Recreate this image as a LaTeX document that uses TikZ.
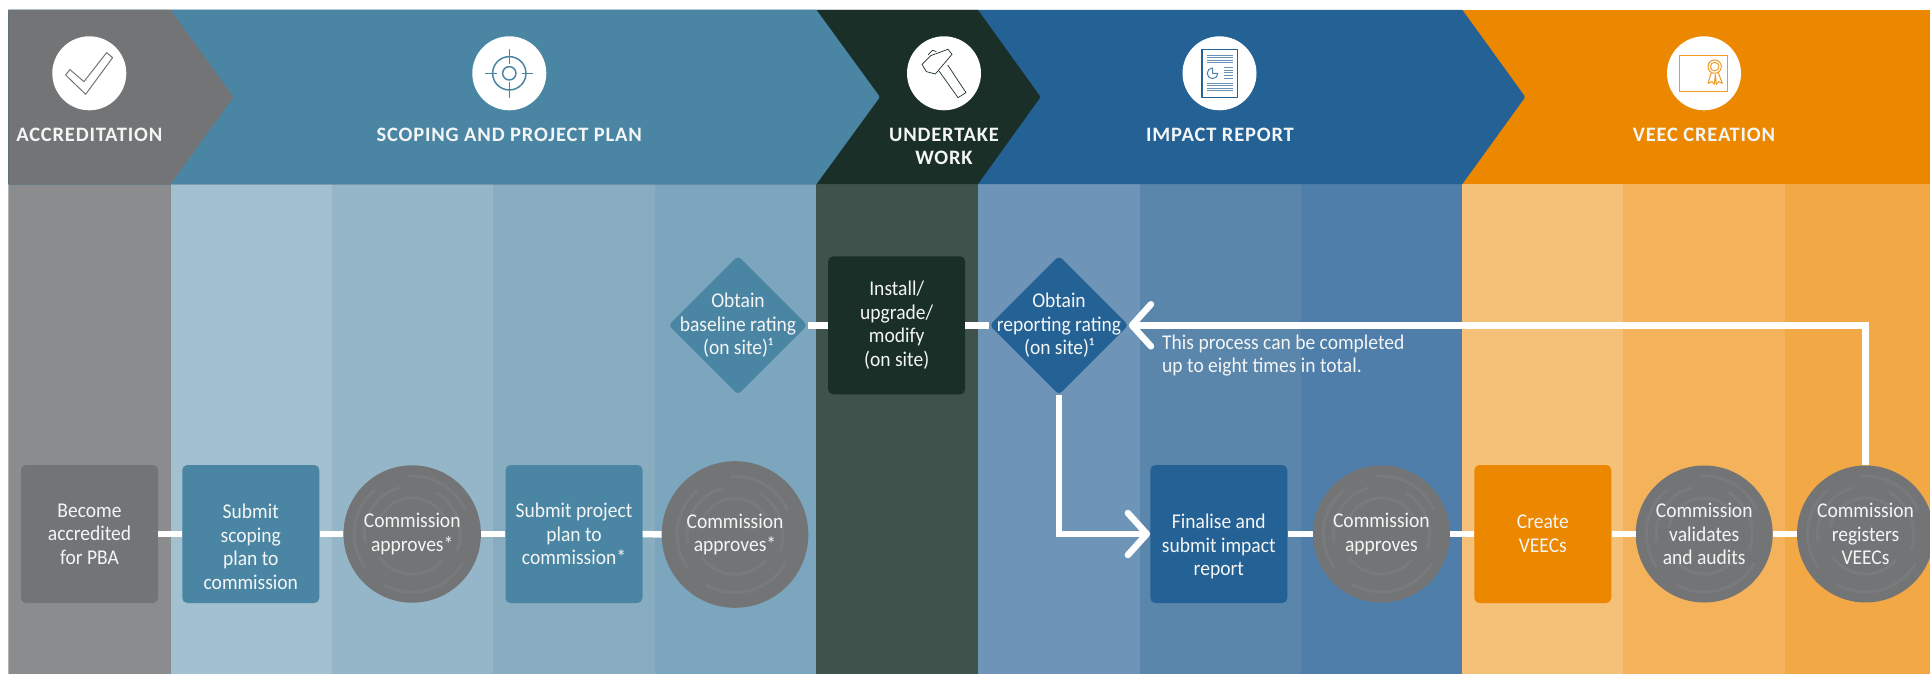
\documentclass[tikz,border=0pt]{standalone}
\usepackage{fontspec}
\setmainfont[FakeStretch=0.93]{Carlito}
\newfontfamily\headfont[LetterSpace=4]{Carlito}
\usetikzlibrary{shapes.geometric,arrows.meta,calc}
\definecolor{hgrey}{HTML}{727476}
\definecolor{cgrey}{HTML}{8B8C8E}
\definecolor{hteal}{HTML}{4A86A3}
\definecolor{tealA}{HTML}{A2C0CF}
\definecolor{tealB}{HTML}{94B6C8}
\definecolor{tealC}{HTML}{88ADC0}
\definecolor{tealD}{HTML}{7BA6BD}
\definecolor{hdark}{HTML}{1A2F28}
\definecolor{cdark}{HTML}{3F534C}
\definecolor{hblue}{HTML}{246195}
\definecolor{blueA}{HTML}{6E94B7}
\definecolor{blueB}{HTML}{5A86AC}
\definecolor{blueC}{HTML}{4E7EA9}
\definecolor{horange}{HTML}{EC8800}
\definecolor{orangeA}{HTML}{F5C077}
\definecolor{orangeB}{HTML}{F4B25A}
\definecolor{orangeC}{HTML}{F2A844}
\definecolor{sealgrey}{HTML}{727476}
\definecolor{sealarc}{HTML}{787A7C}
\definecolor{paper}{HTML}{F4F5F5}
\newcommand{\ringarc}[3]{% start, end, radius
  \draw[line width=3pt,draw=sealarc] (path picture bounding box.center) ++(#1:#3pt) arc[start angle=#1,end angle=#2,radius=#3pt];}
\newcommand{\sealrings}{%
  \ringarc{25}{95}{58}\ringarc{130}{215}{58}\ringarc{240}{330}{58}%
  \ringarc{-20}{60}{48}\ringarc{105}{190}{48}\ringarc{215}{320}{40}\ringarc{30}{170}{36}}
\tikzset{
  x=1pt,y=-1pt,
  txt/.style={text=paper,font=\fontsize{21}{23.5}\selectfont,align=center,inner sep=0pt},
  head/.style={text=paper,font=\headfont\fontsize{20.5}{23.5}\selectfont\bfseries,align=center,inner sep=0pt},
  procbox/.style={txt,rectangle,rounded corners=5pt,minimum width=137pt,minimum height=138pt,fill=#1},
  seal/.style={txt,circle,fill=sealgrey,minimum size=#1*2pt,path picture={\sealrings}},
  deci/.style={diamond,aspect=1,rounded corners=4pt,inner sep=0pt,minimum width=139pt,minimum height=139pt,fill=#1},
  badge/.style={circle,fill=white,minimum size=74pt,inner sep=0pt},
  flow/.style={draw=white,line width=6.5pt},
  flowhead/.style={flow,-{Straight Barb[length=19pt,width=42pt,round]}},
  iconline/.style={line width=1pt,line join=round},
  iconframe/.style={shift={(#1.center)},x=.3333pt,y=-.3333pt,shift={(-148,-145)}},
}
\newcommand{\chevron}[3]{% colour, top/bottom x, tip x
  \fill[#1] (0,10) -- (#2,10) -- ($(#3,97)+(-3,-4)$) .. controls (#3,97) .. ($(#3,97)+(-3,4)$) -- (#2,184) -- (0,184) -- cycle;}
\begin{document}
\begin{tikzpicture}
\useasboundingbox (0,0) rectangle (1930,674);
\begin{scope}
\clip (8.4,0) rectangle (1930,674);
% body columns
\fill[cgrey] (0,184) rectangle (170.5,674);
\fill[tealA] (170.5,184) rectangle (331.6,674);
\fill[tealB] (331.6,184) rectangle (493,674);
\fill[tealC] (493,184) rectangle (654.6,674);
\fill[tealD] (654.6,184) rectangle (816,674);
\fill[cdark] (816,184) rectangle (977.5,674);
\fill[blueA] (977.5,184) rectangle (1139.6,674);
\fill[blueB] (1139.6,184) rectangle (1300.5,674);
\fill[blueC] (1300.5,184) rectangle (1462.4,674);
\fill[orangeA] (1462.4,184) rectangle (1623,674);
\fill[orangeB] (1623,184) rectangle (1785,674);
\fill[orangeC] (1785,184) rectangle (1930,674);
% header chevrons
\fill[horange] (1400,10) rectangle (1930,184);
\chevron{hblue}{1462.4}{1525.4}
\chevron{hdark}{978}{1040.7}
\chevron{hteal}{816.5}{880}
\chevron{hgrey}{170.5}{233.6}
% process nodes
\node[procbox=hgrey] (become) at (89.5,534) {Become\\accredited\\for PBA};
\node[procbox=hteal] (scoping) at (250.8,534) {\strut\\Submit\\scoping\\plan to\\commission};
\node[seal=68.7] (appA) at (412.2,534) {Commission\\approves*};
\node[procbox=hteal] (project) at (574,534) {Submit project\\plan to\\commission*};
\node[seal=73.3] (appB) at (735,534.5) {Commission\\approves*};
\node[deci=hteal,label={[txt]center:Obtain\\baseline rating\\(on site)¹}] (baseline) at (738,325.3) {};
\node[procbox=hdark] (install) at (896.7,325.3) {Install/\\upgrade/\\modify\\(on site)};
\node[deci=hblue,label={[txt]center:Obtain\\reporting rating\\(on site)¹}] (reporting) at (1059,325.3) {};
\node[procbox=hblue] (finalise) at (1218.8,534) {\strut\\Finalise and\\submit impact\\report};
\node[seal=68.5] (appC) at (1381.4,534) {Commission\\approves};
\node[procbox=horange] (create) at (1542.8,534) {Create\\VEECs};
\node[seal=68.5] (validate) at (1704.2,534) {Commission\\validates\\and audits};
\node[seal=68.5] (register) at (1865.5,534) {Commission\\registers\\VEECs};
% connectors
\draw[flow] (become) -- (scoping);
\draw[flow] (scoping) -- (appA);
\draw[flow] (appA) -- (project);
\draw[flow] (project) -- (appB);
\draw[flow] (baseline) -- (install);
\draw[flow] (install) -- (reporting);
\draw[flow] (finalise) -- (appC);
\draw[flow] (appC) -- (create);
\draw[flow] (create) -- (validate);
\draw[flow] (validate) -- (register);
\draw[flowhead] (reporting.south) |- (finalise.west);
\draw[flowhead] (register.north) |- (reporting.east);
\node[txt,anchor=west,align=left] (note) at (1162,355.5) {This process can be completed\\up to eight times in total.};
% header badges and titles
\node[badge] (iconA) at (89.3,73.3) {};
\node[badge] (iconB) at (509.3,73.3) {};
\node[badge] (iconC) at (944,73.3) {};
\node[badge] (iconD) at (1219.5,73.3) {};
\node[badge] (iconE) at (1704,73.3) {};
\node[head] (titleA) at (89.3,135) {ACCREDITATION};
\node[head] (titleB) at (509.3,135) {SCOPING AND PROJECT PLAN};
\node[head] (titleC) at (944,146.5) {UNDERTAKE\\WORK};
\node[head] (titleD) at (1220,135) {IMPACT REPORT};
\node[head] (titleE) at (1704,135) {VEEC CREATION};
% check icon
\begin{scope}[iconframe=iconA]
\draw[iconline,draw=hgrey] (77,150) -- (90,134) -- (132,170) -- (200,83) -- (218,98) -- (137,208) -- cycle;
\end{scope}
% target icon
\begin{scope}[iconframe=iconB]
\draw[iconline,draw=hteal,line width=1.5pt] (148,145) circle[radius=50] (148,145) circle[radius=20];
\draw[iconline,draw=hteal] (148,72) -- (148,118) (148,172) -- (148,218) (76,145) -- (112,145) (185,145) -- (220,145);
\end{scope}
% hammer icon
\begin{scope}[iconframe=iconC]
\draw[line width=.7pt,line join=round,draw=hdark,fill=white] (133,138) -- (190,218) -- (214,203) -- (159,120);
\draw[line width=.7pt,line join=round,draw=hdark] (100,90) -- (114,76) -- (125,80);
\draw[line width=.7pt,line join=round,draw=hdark,fill=white] (82,118) -- (108,92) -- (160,73) -- (172,88) -- (122,147) -- (95,140) -- cycle;
\end{scope}
% report icon
\begin{scope}[iconframe=iconD]
\draw[iconline,draw=hblue,line width=1.6pt] (95,73) rectangle (202,218);
\draw[draw=hblue!70!white,line width=1pt] (110,92) -- (188,92) (110,99) -- (188,99) (110,106) -- (188,106) (110,113) -- (188,113)
  (160,128) -- (188,128) (160,136) -- (188,136) (160,144) -- (188,144) (160,152) -- (188,152) (160,160) -- (188,160)
  (110,175) -- (188,175) (110,183) -- (188,183) (110,190) -- (188,190) (110,198) -- (188,198);
\draw[iconline,draw=hblue!80!white] (127,129) arc[start angle=-90,end angle=-360,radius=16] -- (127,145) -- cycle;
\end{scope}
% certificate icon
\begin{scope}[iconframe=iconE]
\draw[iconline,draw=horange!85!white,line width=1.4pt] (75,92) rectangle (218,200);
\draw[iconline,draw=horange!85!white,fill=white] (170,142) -- (160,175) -- (172,170) -- (179,178) -- (182,148) (190,142) -- (203,175) -- (192,170) -- (185,178) -- (182,148);
\draw[iconline,draw=horange!85!white,fill=white] (180,125) circle[radius=20];
\draw[iconline,draw=horange!85!white] (180,125) circle[radius=13];
\end{scope}
\end{scope}
\end{tikzpicture}
\end{document}
